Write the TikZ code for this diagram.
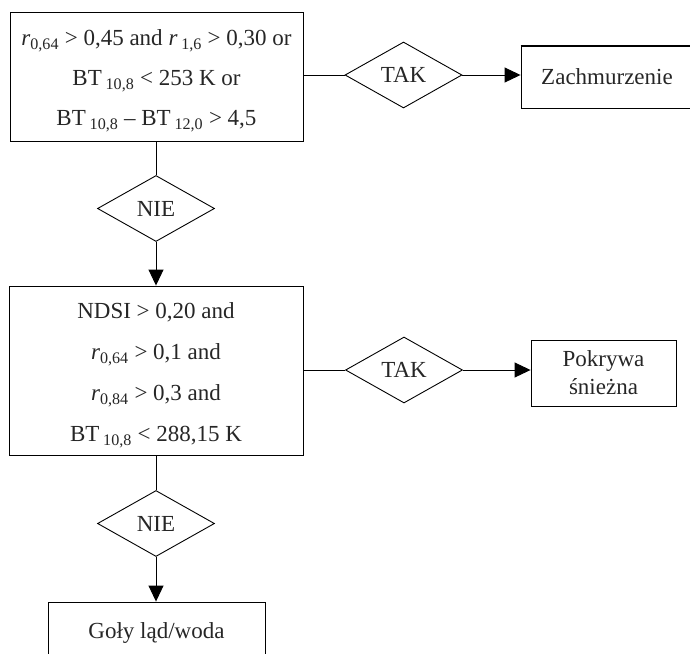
\documentclass[tikz,border=0pt]{standalone}
\usepackage{fontspec}
\setmainfont{Liberation Serif}
\usetikzlibrary{shapes.geometric,arrows.meta}
\tikzset{
  lbl/.style={font=\fontsize{23}{40}\selectfont, text=black!85},
  condbox/.style={draw, line width=0.9pt, rectangle, inner sep=0pt, align=center, lbl},
  boxtext/.style={inner sep=0pt, align=center, lbl},
  decis/.style={draw, line width=0.9pt, diamond, inner sep=0pt, minimum width=117pt, minimum height=66pt, lbl},
  conn/.style={line width=0.9pt},
  arr/.style={line width=0.9pt, -{Triangle[length=16pt,width=15pt]}}
}
\newcommand{\sbs}[1]{\textsubscript{#1}}
\begin{document}
\begin{tikzpicture}[x=1pt,y=-1pt]
\useasboundingbox (0,0) rectangle (690,653);
\node[condbox, minimum width=293pt, minimum height=129pt] (box1) at (156.5,76.5) {};
\node[boxtext] (box1t) at (156.5,81)
  {\textit{r}\sbs{0,64} > 0,45 and \textit{r}\,\sbs{1,6} > 0,30 or\\
   BT\,\sbs{10,8} < 253 K or\\
   BT\,\sbs{10,8} – BT\,\sbs{12,0} > 4,5};
\node[decis] (tak1) at (403.5,75) {TAK};
\node[condbox, minimum width=172pt, minimum height=62pt] (zach) at (607,77) {Zachmurzenie};
\draw[line width=2pt] (zach.north west) -- (zach.north east);
\node[decis] (nie1) at (156,208.5) {NIE};
\node[condbox, minimum width=294pt, minimum height=169pt] (box2) at (156,370.5) {};
\node[boxtext, font=\fontsize{23}{41}\selectfont] (box2t) at (156,375)
  {NDSI > 0,20 and\\
   \textit{r}\sbs{0,64} > 0,1 and\\
   \textit{r}\sbs{0,84} > 0,3 and\\
   BT\,\sbs{10,8} < 288,15 K};
\node[decis] (tak2) at (404,370) {TAK};
\node[condbox, minimum width=145pt, minimum height=66pt, font=\fontsize{23}{28}\selectfont] (pok) at (603.5,373) {Pokrywa\\śnieżna};
\node[decis] (nie2) at (156,523.5) {NIE};
\node[condbox, minimum width=217pt, minimum height=62pt] (box3) at (156.5,633) {Goły ląd/woda};
\draw[conn] (box1.east |- tak1.west) -- (tak1.west);
\draw[arr] (tak1.east) -- (zach.west |- tak1.east);
\draw[conn] (box1.south -| nie1.north) -- (nie1.north);
\draw[arr] (nie1.south) -- (box2.north -| nie1.south);
\draw[conn] (box2.east |- tak2.west) -- (tak2.west);
\draw[arr] (tak2.east) -- (pok.west |- tak2.east);
\draw[conn] (box2.south -| nie2.north) -- (nie2.north);
\draw[arr] (nie2.south) -- (box3.north -| nie2.south);
\end{tikzpicture}
\end{document}
